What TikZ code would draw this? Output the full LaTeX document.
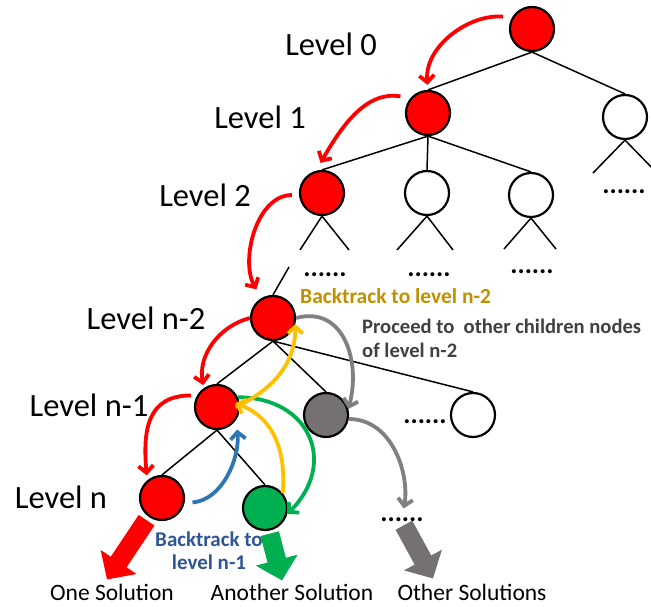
\documentclass[tikz,border=0pt]{standalone}
\usepackage{fontspec}
\setmainfont{Carlito}
\usetikzlibrary{arrows.meta}

\definecolor{nodered}{HTML}{FF0000}
\definecolor{nodegreen}{HTML}{00B050}
\definecolor{nodegray}{HTML}{767171}
\definecolor{arrowgray}{HTML}{808080}
\definecolor{arrowblue}{HTML}{2E75B6}
\definecolor{arrowgold}{HTML}{FFC000}
\definecolor{textgold}{HTML}{BF9000}
\definecolor{textgray}{HTML}{404040}
\definecolor{textblue}{HTML}{2F5597}

\begin{document}
\begin{tikzpicture}[x=1pt,y=1pt,
  treenode/.style={circle, draw=black, line width=2.2pt, minimum size=44pt, inner sep=0pt},
  rednode/.style={treenode, fill=nodered},
  whitenode/.style={treenode, fill=white},
  graynode/.style={treenode, fill=nodegray},
  greennode/.style={treenode, fill=nodegreen},
  treeline/.style={line width=1.5pt},
  curv/.style={line width=3.8pt, -{Straight Barb[length=7pt,width=15pt]}},
  fatarrow/.style={line width=19pt, -{Triangle[length=21pt,width=42pt]}},
  levellab/.style={font=\fontsize{32.5}{38}\selectfont},
  dotlabel/.style={font=\bfseries\fontsize{27}{27}\selectfont, inner sep=0pt, text height=3pt, text depth=0pt},
  sollab/.style={font=\fontsize{23.5}{28}\selectfont, inner sep=0pt, anchor=base},
  notelab/.style={font=\bfseries\fontsize{21.5}{24}\selectfont, inner sep=0pt, align=left},
]
\useasboundingbox (0,0) rectangle (651,606);

% tree nodes
\node[rednode]   (root) at (532,577) {};
\node[rednode]   (L1)   at (428,493) {};
\node[whitenode] (R1)   at (625,489) {};
\node[rednode]   (L2a)  at (322,413) {};
\node[whitenode] (L2b)  at (427,413) {};
\node[whitenode] (L2c)  at (531,411) {};
\node[rednode]   (n2)   at (273,288) {};
\node[rednode]   (n1)   at (217,199) {};
\node[graynode]  (gn)   at (326,191) {};
\node[whitenode] (Rw)   at (473,191) {};
\node[rednode]   (rn)   at (162,108) {};
\node[greennode] (gr)   at (265,98) {};

% leg ends of the unexpanded subtrees
\coordinate (R1l)  at (593,433);
\coordinate (R1r)  at (657,433);
\coordinate (L2al) at (300,356);
\coordinate (L2ar) at (349,356);
\coordinate (L2bl) at (397,356);
\coordinate (L2br) at (453,356);
\coordinate (L2cl) at (504,357);
\coordinate (L2cr) at (556,357);
\coordinate (hang) at (289,339);

% tree edges
\begin{scope}[treeline]
\draw (root.south) -- (L1.north);
\draw (root.south) -- (R1.north);
\draw (L1.south) -- (L2a.north);
\draw (L1.south) -- (L2b.north);
\draw (L1.south) -- (L2c.north);
\draw (R1l) -- (R1.south) -- (R1r);
\draw (L2al) -- (L2a.south) -- (L2ar);
\draw (L2bl) -- (L2b.south) -- (L2br);
\draw (L2cl) -- (L2c.south) -- (L2cr);
\draw (hang) -- (n2.north);
\draw (n2.south) -- (n1.north);
\draw (n2.south) -- (gn.north);
\draw (n2.south) -- (Rw.north);
\draw (n1.south) -- (rn.north);
\draw (n1.south) -- (gr.north);
\end{scope}

% elided branches
\node[dotlabel] (d1) at (325,331) {......};
\node[dotlabel] (d2) at (429,331) {......};
\node[dotlabel] (d3) at (532,334) {......};
\node[dotlabel] (d4) at (624,414) {......};
\node[dotlabel] (d5) at (425,184) {......};
\node[dotlabel] (dg) at (402,86) {......};

% level labels
\node[levellab] (lv0) at (331,562) {Level 0};
\node[levellab] (lv1) at (260,489) {Level 1};
\node[levellab] (lv2) at (205,411) {Level 2};
\node[levellab] (lvn2) at (146,288) {Level n-2};
\node[levellab] (lvn1) at (89,201) {Level n-1};
\node[levellab] (lvn) at (61,109) {Level n};

% solution labels
\node[sollab] (one)     at (112,6) {One Solution};
\node[sollab] (another) at (292,6) {Another Solution};
\node[sollab] (other)   at (472,6) {Other Solutions};

% annotations
\node[notelab, text=textgold, anchor=west] (btn2) at (300,310) {Backtrack to level n-2};
\node[notelab, text=textgray, anchor=west, font=\bfseries\fontsize{20.6}{24}\selectfont] (proc) at (362,268) {Proceed to~ other children nodes\\of level n-2};
\node[notelab, text=textblue, align=center, font=\bfseries\fontsize{21}{23}\selectfont] (btn1) at (209,55) {Backtrack to\\level n-1};

% depth-first descent
\draw[curv, nodered, shorten <=9pt, shorten >=5pt] (root.150) to[out=175,in=95] (L1.north);
\draw[curv, nodered, shorten <=10pt, shorten >=9pt] (L1.140) to[out=170,in=60] (L2a.105);
\draw[curv, nodered, shorten <=7pt, shorten >=10pt] (L2a.185) to[out=180,in=120] (n2.120);
\draw[curv, nodered, shorten >=3pt] (n2.180) to[out=195,in=100] (n1.125);
\draw[curv, nodered, shorten <=6pt, shorten >=5pt, looseness=1.3] (n1.150) to[out=180,in=95] (rn.130);

% backtracking and further exploration
\draw[curv, arrowblue, shorten <=8pt, shorten >=10pt] (rn.-13) to[out=5,in=-85] (n1.-33);
\draw[curv, nodegreen, looseness=1.45] (n1.25) to[out=0,in=45] (gr.-15);
\draw[curv, arrowgold, shorten >=-5pt] (gr.40) to[out=85,in=-20] (n1.5);
\draw[curv, arrowgold, shorten <=-5pt] (n1.5) to[out=25,in=-90] (n2.-15);
\draw[curv, arrowgray, looseness=1.2] (n2.east) to[out=15,in=75] (gn.15);
\draw[curv, arrowgray, shorten >=10pt] (gn.-10) to[out=0,in=80] (dg.north);

% solutions
\draw[fatarrow, nodered, shorten <=4pt] (rn.235) -- ([shift={(-5,4)}]one.north);
\draw[fatarrow, nodegreen, shorten <=3pt] (gr.-80) -- ([shift={(-10,3)}]another.north);
\draw[fatarrow, nodegray, shorten <=4pt] (dg.south) -- ([shift={(-39,5)}]other.north);
\end{tikzpicture}
\end{document}
